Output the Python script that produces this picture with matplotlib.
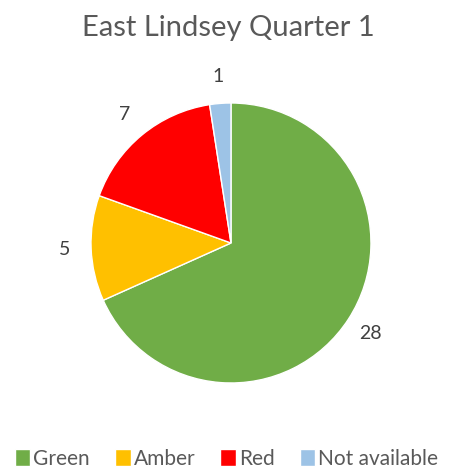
import numpy as np
import matplotlib.pyplot as plt

title = "East Lindsey Quarter 1"
categories = ["Green", "Amber", "Red", "Not available"]
values = [28, 5, 7, 1]
colors = ["#70AD47", "#FFC000", "#FF0000", "#9DC3E6"]

plt.rcParams['font.family'] = ['Lato', 'DejaVu Sans']
txt = "#595959"

fig = plt.figure(figsize=(4.53, 4.69), dpi=100)
ax = fig.add_axes([0.2009, 0.1834, 0.618, 0.597])
wedges, _ = ax.pie(values, colors=colors, startangle=90, counterclock=False,
                   radius=1.0, wedgeprops=dict(edgecolor="white", linewidth=1))
ax.set_xlim(-1, 1)
ax.set_ylim(-1, 1)
ax.set_aspect("auto")

for w, v in zip(wedges, values):
    ang = np.deg2rad((w.theta1 + w.theta2) / 2)
    ax.text(1.19 * np.cos(ang), 1.19 * np.sin(ang), str(v), ha="center", va="center",
            fontsize=14, color="#404040", clip_on=False)

fig.text(0.505, 0.94, title, ha="center", va="center", fontsize=21, color=txt)

leg = fig.legend(wedges, categories, loc="center", bbox_to_anchor=(0.5, 0.022),
                 ncol=4, frameon=False, fontsize=15, labelcolor=txt,
                 handlelength=0.75, handleheight=0.9, handletextpad=0.15,
                 columnspacing=1.2)

fig.savefig("out.png", dpi=100)
